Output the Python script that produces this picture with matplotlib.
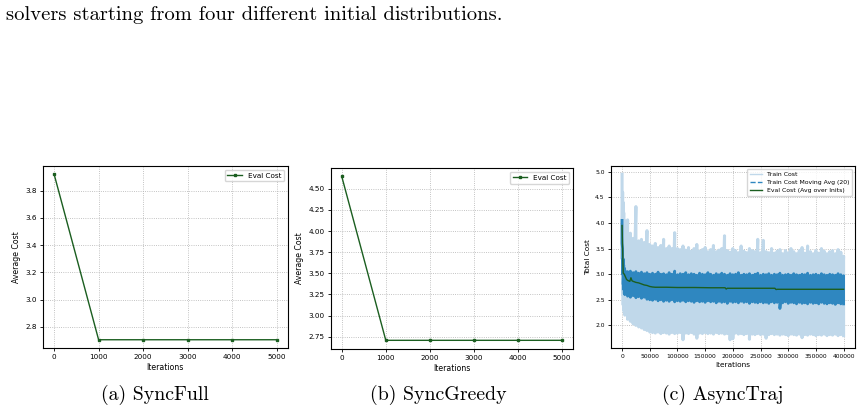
import numpy as np
import matplotlib.pyplot as plt

# (a) SyncFull / (b) SyncGreedy eval cost
sync_iters = [0, 1000, 2000, 3000, 4000, 5000]
syncfull_cost = [3.92, 2.705, 2.705, 2.705, 2.705, 2.705]
syncgreedy_cost = [4.645, 2.707, 2.707, 2.707, 2.707, 2.707]

# (c) AsyncTraj: spread of the noisy train cost
train_iters = [0, 1000, 2000, 3000, 4000] + list(range(5000, 400001, 5000))
train_hi = [4.95, 4.60, 4.40, 4.20, 4.05,
            4.00, 4.06, 3.80, 3.70, 4.32, 3.65, 3.68, 3.62, 3.85, 3.58,
            3.55, 3.60, 3.52, 3.56, 3.68, 3.50, 3.55, 3.50, 3.81, 3.50,
            3.48, 3.55, 3.47, 3.52, 3.45, 3.50, 3.58, 3.45, 3.48, 3.52,
            3.44, 3.48, 3.56, 3.44, 3.47, 3.50, 3.75, 3.46, 3.43, 3.50,
            3.46, 3.42, 3.55, 3.45, 3.42, 3.50, 3.46, 3.44, 3.68, 3.42,
            3.66, 3.44, 3.42, 3.50, 3.41, 3.45, 3.48, 3.40, 3.46, 3.42,
            3.50, 3.44, 3.40, 3.46, 3.52, 3.41, 3.55, 3.44, 3.40, 3.46,
            3.41, 3.50, 3.45, 3.40, 3.44, 3.46, 3.40, 3.48, 3.43, 3.35]
train_lo = [3.30, 2.60, 2.40, 2.30, 2.25,
            2.20, 2.12, 2.08, 2.03, 2.00, 1.97, 1.95, 1.92, 1.90, 1.87,
            1.86, 1.85, 1.87, 1.84, 1.86, 1.85, 1.83, 1.86, 1.84, 1.85,
            1.86, 1.72, 1.85, 1.84, 1.86, 1.83, 1.75, 1.85, 1.84, 1.86,
            1.84, 1.85, 1.83, 1.86, 1.84, 1.85, 1.83, 1.84, 1.72, 1.74,
            1.85, 1.83, 1.84, 1.82, 1.84, 1.73, 1.83, 1.82, 1.84, 1.82,
            1.83, 1.75, 1.82, 1.84, 1.82, 1.83, 1.81, 1.83, 1.82, 1.80,
            1.83, 1.82, 1.81, 1.83, 1.76, 1.82, 1.81, 1.83, 1.82, 1.80,
            1.82, 1.81, 1.83, 1.80, 1.82, 1.81, 1.83, 1.80, 1.82, 1.80]
ma_hi = [4.05, 3.50, 3.30, 3.18, 3.12,
         3.08, 3.05, 3.06, 3.03, 3.05, 3.02, 3.04, 3.01, 3.03, 3.00,
         3.02, 3.00, 3.04, 3.00, 3.01, 2.99, 3.03, 3.00, 3.06, 2.99,
         3.01, 3.00, 3.03, 2.99, 3.01, 3.00, 2.98, 3.02, 3.00, 2.99,
         3.03, 3.00, 2.98, 3.01, 2.99, 3.02, 3.00, 2.98, 3.01, 2.99,
         3.00, 3.03, 2.98, 3.00, 2.99, 3.01, 2.98, 3.00, 3.02, 2.98,
         3.00, 2.99, 3.01, 2.98, 3.00, 2.99, 3.02, 2.98, 2.99, 3.00,
         2.98, 3.01, 2.99, 2.98, 3.00, 2.99, 3.02, 2.98, 2.99, 3.00,
         2.98, 3.01, 2.99, 2.98, 3.00, 2.99, 2.98, 3.01, 2.99, 2.97]
ma_lo = [3.60, 3.00, 2.80, 2.70, 2.62,
         2.60, 2.57, 2.55, 2.58, 2.54, 2.56, 2.53, 2.55, 2.51, 2.50,
         2.49, 2.51, 2.48, 2.50, 2.47, 2.49, 2.47, 2.50, 2.46, 2.48,
         2.47, 2.49, 2.46, 2.48, 2.47, 2.45, 2.48, 2.46, 2.47, 2.45,
         2.48, 2.46, 2.47, 2.44, 2.47, 2.45, 2.46, 2.43, 2.47, 2.45,
         2.46, 2.44, 2.47, 2.45, 2.46, 2.43, 2.46, 2.45, 2.44, 2.46,
         2.44, 2.45, 2.43, 2.46, 2.44, 2.45, 2.33, 2.44, 2.46, 2.43,
         2.45, 2.44, 2.42, 2.45, 2.43, 2.44, 2.42, 2.45, 2.43, 2.44,
         2.42, 2.45, 2.43, 2.42, 2.44, 2.43, 2.41, 2.44, 2.42, 2.42]
eval_iters = [0, 2000, 4000, 6000, 8000, 10000, 12000, 14000, 16000, 18000,
              20000, 25000, 30000, 35000, 40000, 45000, 50000, 55000, 60000,
              80000, 100000, 130000, 160000, 186000, 188000, 190000,
              276000, 278000, 280000, 400000]
eval_cost = [3.95, 3.02, 3.00, 2.95, 2.90, 2.88, 2.87, 2.86, 2.93, 2.87,
             2.86, 2.84, 2.83, 2.81, 2.79, 2.78, 2.76, 2.75, 2.745,
             2.745, 2.74, 2.74, 2.735, 2.735, 2.71, 2.725,
             2.725, 2.70, 2.705, 2.705]

sync_xticks = [0, 1000, 2000, 3000, 4000, 5000]
async_xticks = list(range(0, 400001, 50000))

GREEN = "#1b5e20"
LIGHT_BLUE = "#c0d8ea"
MID_BLUE = "#2f87c0"

fig = plt.figure(figsize=(8.62, 4.12), dpi=100)

fig.text(0.007, 0.963, "solvers starting from four different initial distributions.",
         family="cmr10", fontsize=14.8, va="center", ha="left")


def style(ax, tick_fs):
    ax.grid(True, linestyle=":", linewidth=0.6, color="#b0b0b0")
    ax.tick_params(labelsize=tick_fs, length=2.5, width=0.6, pad=2)
    for s in ax.spines.values():
        s.set_linewidth(0.8)


ax1 = fig.add_axes([0.0499, 0.1553, 0.2838, 0.4417])
ax1.plot(sync_iters, syncfull_cost, color=GREEN, lw=1, marker="s", ms=2, label="Eval Cost")
ax1.set_xticks(sync_xticks)
ax1.set_xlabel("Iterations", fontsize=5.6, labelpad=2)
ax1.set_ylabel("Average Cost", fontsize=5.6, labelpad=3)
ax1.legend(fontsize=5.2, loc="upper right")
style(ax1, 5.2)

ax2 = fig.add_axes([0.3837, 0.1541, 0.2810, 0.4374])
ax2.plot(sync_iters, syncgreedy_cost, color=GREEN, lw=1, marker="s", ms=2, label="Eval Cost")
ax2.set_xticks(sync_xticks)
ax2.set_xlabel("Iterations", fontsize=5.6, labelpad=2)
ax2.set_ylabel("Average Cost", fontsize=5.6, labelpad=3)
ax2.legend(fontsize=5.2, loc="upper right")
style(ax2, 5.2)

# noisy series drawn as a zigzag between the read-off extremes
zx = np.repeat(train_iters, 2)
train_z = np.column_stack([train_hi, train_lo]).ravel()
ma_z = np.column_stack([ma_hi, ma_lo]).ravel()

ax3 = fig.add_axes([0.7088, 0.1553, 0.2827, 0.4417])
ax3.plot(zx, train_z, color=LIGHT_BLUE, lw=2.2)
ax3.plot(zx, ma_z, color=MID_BLUE, lw=2.0)
ax3.plot(eval_iters, eval_cost, color=GREEN, lw=1)
# legend entries
ax3.plot([], [], color=LIGHT_BLUE, lw=1, label="Train Cost")
ax3.plot([], [], color=MID_BLUE, lw=1, ls="--", label="Train Cost Moving Avg (20)")
ax3.plot([], [], color=GREEN, lw=1, label="Eval Cost (Avg over Inits)")
ax3.set_xticks(async_xticks)
ax3.set_xlabel("Iterations", fontsize=5.3, labelpad=2)
ax3.set_ylabel("Total Cost", fontsize=5.3, labelpad=3)
ax3.legend(fontsize=4.4, loc="upper right")
style(ax3, 4.3)

for x, cap in [(0.180, "(a) SyncFull"), (0.508, "(b) SyncGreedy"), (0.838, "(c) AsyncTraj")]:
    fig.text(x, 0.041, cap, family="cmr10", fontsize=14.3, ha="center", va="center")

fig.savefig("out.png", dpi=100, facecolor="white")
